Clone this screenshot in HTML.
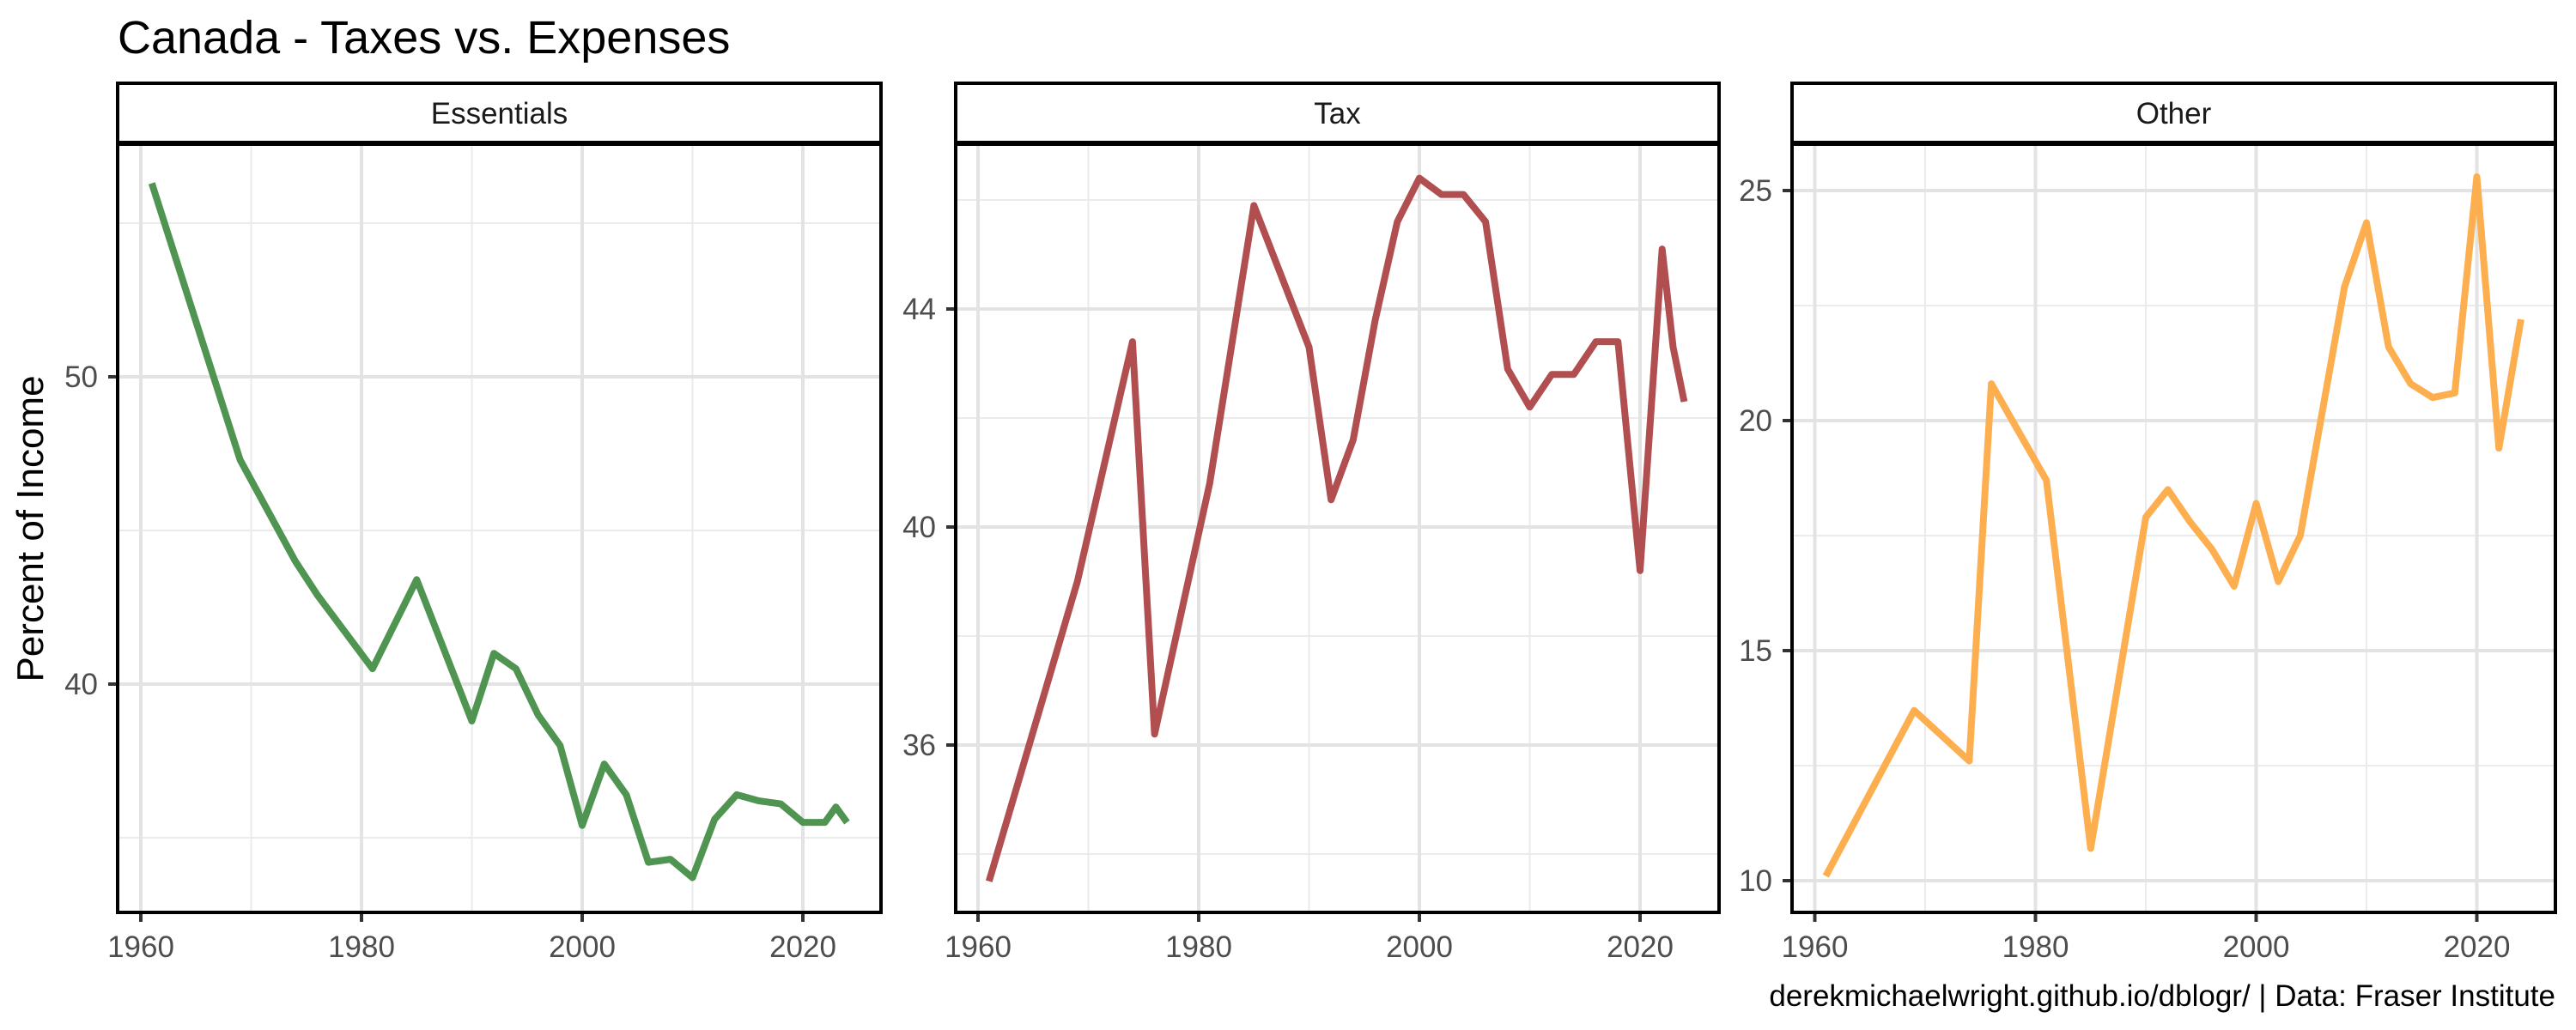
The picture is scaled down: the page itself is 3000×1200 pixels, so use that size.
<!DOCTYPE html>
<html><head><meta charset="utf-8"><style>
html,body{margin:0;padding:0;background:#fff;}
svg{display:block;font-family:"Liberation Sans",Arial,sans-serif;}
</style></head><body>
<svg id="chart" width="3000" height="1200" viewBox="0 0 3000 1200" xmlns="http://www.w3.org/2000/svg">
<rect width="3000" height="1200" fill="#fff"/>
<text x="137" y="62" font-size="54" fill="#000">Canada - Taxes vs. Expenses</text>
<text transform="translate(50,616) rotate(-90)" text-anchor="middle" font-size="44" fill="#000">Percent of Income</text>
<text x="2976" y="1172" text-anchor="end" font-size="35" fill="#000">derekmichaelwright.github.io/dblogr/ | Data: Fraser Institute</text>
</svg>
<script>
const years = [1961,1969,1974,1976,1981,1985,1990,1992,1994,1996,1998,2000,2002,2004,2006,2008,2010,2012,2014,2016,2018,2020,2022,2023,2024];
const essentials = [56.3,47.3,44.0,42.9,40.5,43.4,38.8,41.0,40.5,39.0,38.0,35.4,37.4,36.4,34.2,34.3,33.7,35.6,36.4,36.2,36.1,35.5,35.5,36.0,35.5];
const tax = [33.5,39.0,43.4,36.2,40.8,45.9,43.3,40.5,41.6,43.8,45.6,46.4,46.1,46.1,45.6,42.9,42.2,42.8,42.8,43.4,43.4,39.2,45.1,43.3,42.3];
const other = [10.1,13.7,12.6,20.8,18.7,10.7,17.9,18.5,17.8,17.2,16.4,18.2,16.5,17.5,20.2,22.9,24.3,21.6,20.8,20.5,20.6,25.3,19.4,20.8,22.2];
const xTicks = [1960,1980,2000,2020];
const xMinor = [1970,1990,2010];
const essTicks = [40,50];
const essMinor = [35,45,55];
const taxTicks = [36,40,44];
const taxMinor = [34,38,42,46];
const othTicks = [10,15,20,25];
const othMinor = [12.5,17.5,22.5];

const NS = "http://www.w3.org/2000/svg";
const svg = document.getElementById('chart');
function mk(tag, attrs, parent){const e=document.createElementNS(NS,tag);for(const k in attrs)e.setAttribute(k,attrs[k]);(parent||svg).appendChild(e);return e;}

const TOP=168, BOT=1063, STRIP_TOP=97;
function panel(cfg){
  const g = mk('g',{});
  
  
  const L=cfg.left, R=cfg.left+889;
  const xs = yr => cfg.x1960 + (yr-1960)*12.85;
  const ys = v => cfg.yRef - (v-cfg.vRef)*cfg.ppu;
  xMinor.forEach(t=>{const l=mk('line',{x1:xs(t),x2:xs(t),y1:TOP,y2:BOT,stroke:'#ebebeb','stroke-width':2},g);
    });
  cfg.minor.forEach(t=>{const l=mk('line',{x1:L,x2:R,y1:ys(t),y2:ys(t),stroke:'#ebebeb','stroke-width':2},g);
    });
  xTicks.forEach(t=>{const l=mk('line',{x1:xs(t),x2:xs(t),y1:TOP,y2:BOT,stroke:'#e3e3e3','stroke-width':4},g);
    
    const tk=mk('line',{x1:xs(t),x2:xs(t),y1:BOT,y2:BOT+11,stroke:'#333','stroke-width':4},g);
    
    const tx=mk('text',{x:xs(t),y:BOT+52,'text-anchor':'middle','font-size':35,fill:'#4d4d4d'},g);tx.textContent=t;
    });
  cfg.ticks.forEach(t=>{const l=mk('line',{x1:L,x2:R,y1:ys(t),y2:ys(t),stroke:'#e3e3e3','stroke-width':4},g);
    
    const tk=mk('line',{x1:L-11,x2:L,y1:ys(t),y2:ys(t),stroke:'#333','stroke-width':4},g);
    
    const tx=mk('text',{x:L-23,y:ys(t)+12,'text-anchor':'end','font-size':35,fill:'#4d4d4d'},g);tx.textContent=t;
    });
  const pts = years.map((y,i)=>xs(y).toFixed(1)+','+ys(cfg.values[i]).toFixed(1)).join(' ');
  const pl = mk('polyline',{points:pts,fill:'none',stroke:cfg.color,'stroke-width':8,'stroke-linejoin':'round'},g);
  
  
  const b = mk('rect',{x:L,y:TOP,width:889,height:BOT-TOP,fill:'none',stroke:'#000','stroke-width':4},g);
  
  const s = mk('rect',{x:L,y:STRIP_TOP,width:889,height:TOP-STRIP_TOP-2,fill:'#fff',stroke:'#000','stroke-width':4},g);
  
  const st = mk('text',{x:L+444.5,y:144,'text-anchor':'middle','font-size':35,fill:'#1a1a1a'},g);
  st.textContent = cfg.label;
  
}
panel({name:'essentials',label:'Essentials',left:137,x1960:164,yRef:439,vRef:50,ppu:35.8,values:essentials,ticks:essTicks,minor:essMinor,color:'#4f9450'});
panel({name:'tax',label:'Tax',left:1113,x1960:1139,yRef:360,vRef:44,ppu:63.5,values:tax,ticks:taxTicks,minor:taxMinor,color:'#b04e50'});
panel({name:'other',label:'Other',left:2087,x1960:2113.5,yRef:490,vRef:20,ppu:53.6,values:other,ticks:othTicks,minor:othMinor,color:'#fdae4f'});
</script>
</body></html>
